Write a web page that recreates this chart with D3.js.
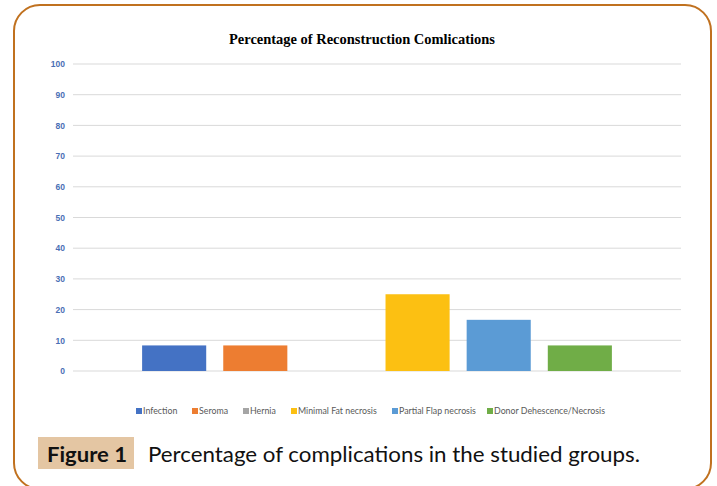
<!DOCTYPE html>
<html>
<head>
<meta charset="utf-8">
<script src="https://cdn.jsdelivr.net/npm/d3@7"></script>
<style>
  body { margin: 0; background: #fff; }
  svg { display: block; }
</style>
</head>
<body>
<div id="chart"></div>
<script>
const seriesNames = ["Infection", "Seroma", "Hernia", "Minimal Fat necrosis", "Partial Flap necrosis", "Donor Dehescence/Necrosis"];
const seriesValues = [8.33, 8.33, 0, 25, 16.67, 8.33];
const seriesColors = ["#4472c4", "#ed7d31", "#a5a5a5", "#fcc012", "#5b9bd5", "#70ad47"];
const yTicks = [0, 10, 20, 30, 40, 50, 60, 70, 80, 90, 100];
const legendX = [136, 192, 243, 291, 392, 487];

const W = 717, H = 486;
const plot = {left: 73, right: 681, top: 64, bottom: 371};

const svg = d3.select("#chart")
  .append("svg")
    .attr("width", W)
    .attr("height", H);

// rounded frame
svg.append("rect")
    .attr("x", 14).attr("y", 5)
    .attr("width", 697).attr("height", 484)
    .attr("rx", 26).attr("ry", 26)
    .attr("fill", "none")
    .attr("stroke", "#c0711f")
    .attr("stroke-width", 2);

svg.append("text")
    .attr("x", 362).attr("y", 44)
    .attr("text-anchor", "middle")
    .style("font-family", "'Liberation Serif', serif")
    .style("font-weight", "bold")
    .style("font-size", "14px")
    .attr("textLength", 266)
    .attr("lengthAdjust", "spacingAndGlyphs")
    .text("Percentage of Reconstruction Comlications");

const y = d3.scaleLinear()
    .domain([0, 100])
    .range([plot.bottom, plot.top]);

const x = d3.scaleBand()
    .domain(seriesNames)
    .range([134, 620])
    .paddingInner(0.21)
    .paddingOuter(0.1);

// gridlines
svg.append("g")
  .selectAll("line")
  .data(yTicks)
  .join("line")
    .attr("x1", plot.left).attr("x2", plot.right)
    .attr("y1", d => y(d)).attr("y2", d => y(d))
    .attr("stroke", "#d9d9d9")
    .attr("stroke-width", 1);

// y axis labels
svg.append("g")
    .attr("transform", `translate(${plot.left},0)`)
    .call(d3.axisLeft(y).tickValues(yTicks).tickSize(0).tickPadding(8))
    .call(g => g.select(".domain").remove())
    .selectAll("text")
      .attr("fill", "#4a6fb5")
      .style("font-family", "'Liberation Sans', Arial, sans-serif")
      .style("font-weight", "bold")
      .style("font-size", "8.5px");

// bars
svg.append("g")
  .selectAll("rect")
  .data(seriesNames)
  .join("rect")
    .attr("x", d => x(d))
    .attr("width", x.bandwidth())
    .attr("y", (d, i) => y(seriesValues[i]))
    .attr("height", (d, i) => y(0) - y(seriesValues[i]))
    .attr("fill", (d, i) => seriesColors[i]);

// legend
const legend = svg.append("g")
  .selectAll("g")
  .data(seriesNames)
  .join("g")
    .attr("transform", (d, i) => `translate(${legendX[i]},408)`);
legend.append("rect")
    .attr("width", 6).attr("height", 6)
    .attr("fill", (d, i) => seriesColors[i]);
legend.append("text")
    .attr("x", 7).attr("y", 6)
    .attr("fill", "#595959")
    .style("font-family", "Lato, 'Open Sans', sans-serif")
    .style("font-size", "8.8px")
    .text(d => d);

// figure caption
svg.append("rect")
    .attr("x", 38).attr("y", 437)
    .attr("width", 96).attr("height", 32)
    .attr("fill", "#e4c6a3");
svg.append("text")
    .attr("x", 47).attr("y", 462)
    .style("font-family", "Lato, 'Open Sans', sans-serif")
    .style("font-weight", "bold")
    .style("font-size", "21px")
    .attr("fill", "#111")
    .attr("textLength", 80)
    .attr("lengthAdjust", "spacingAndGlyphs")
    .text("Figure 1");
svg.append("text")
    .attr("x", 148).attr("y", 462)
    .style("font-family", "Lato, 'Open Sans', sans-serif")
    .style("font-size", "21px")
    .attr("fill", "#111")
    .attr("textLength", 492)
    .attr("lengthAdjust", "spacingAndGlyphs")
    .text("Percentage of complications in the studied groups.");
</script>
</body>
</html>
